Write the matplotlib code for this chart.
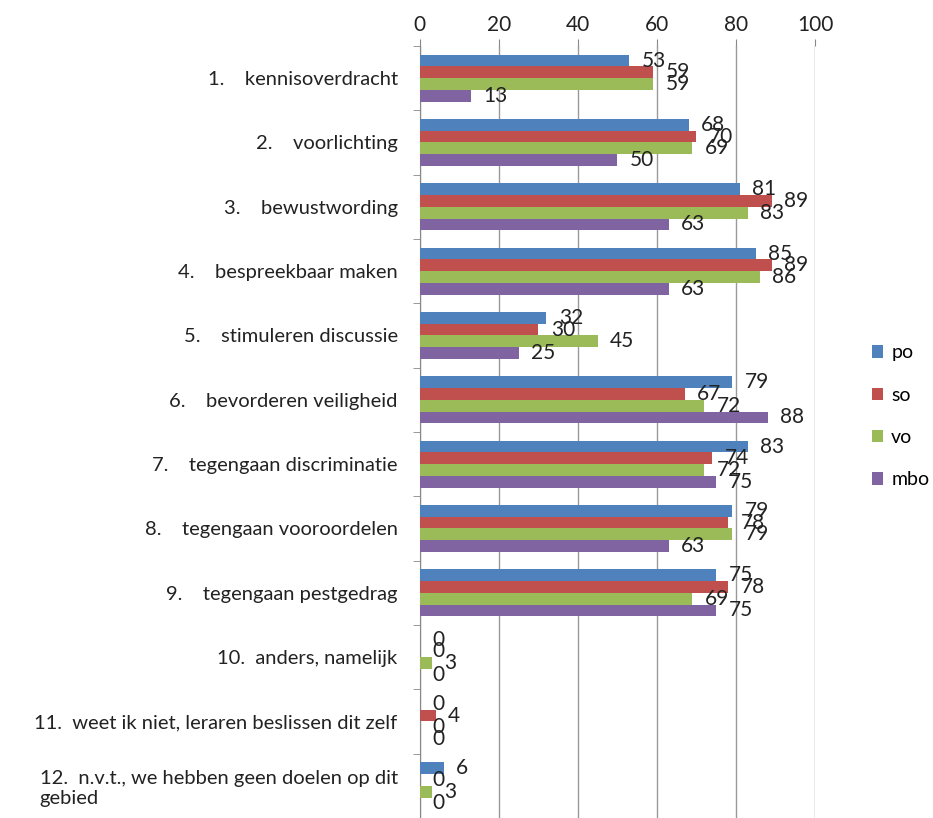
import matplotlib.pyplot as plt
import numpy as np

plt.rcParams['font.family'] = ['Lato', 'DejaVu Sans']

# categories top to bottom
categories = [
    "1.    kennisoverdracht",
    "2.    voorlichting",
    "3.    bewustwording",
    "4.    bespreekbaar maken",
    "5.    stimuleren discussie",
    "6.    bevorderen veiligheid",
    "7.    tegengaan discriminatie",
    "8.    tegengaan vooroordelen",
    "9.    tegengaan pestgedrag",
    "10.  anders, namelijk",
    "11.  weet ik niet, leraren beslissen dit zelf",
    "12.  n.v.t., we hebben geen doelen op dit\ngebied",
]
po = [53, 68, 81, 85, 32, 79, 83, 79, 75, 0, 0, 6]
so = [59, 70, 89, 89, 30, 67, 74, 78, 78, 0, 4, 0]
vo = [59, 69, 83, 86, 45, 72, 72, 79, 69, 3, 0, 3]
mbo = [13, 50, 63, 63, 25, 88, 75, 63, 75, 0, 0, 0]

series = [("po", po, "#4F81BD"), ("so", so, "#C0504D"),
          ("vo", vo, "#9BBB59"), ("mbo", mbo, "#8064A2")]

fig = plt.figure(figsize=(9.33, 8.18), dpi=100)
ax = fig.add_axes([0.450, 0.0, 0.4235, 0.9438])

n = len(categories)
y = np.arange(n)
bh = 1 / 5.5
for i, (name, vals, col) in enumerate(series):
    pos = y - 1.5 * bh + i * bh
    ax.barh(pos, vals, height=bh, color=col, label=name, zorder=3)
    for p, v in zip(pos, vals):
        ax.annotate(str(v), (v, p), xytext=(9, 0), textcoords='offset points',
                    va='center', ha='left', fontsize=15, color='#222222', zorder=4)

ax.set_xlim(0, 100)
ax.set_ylim(n - 0.5, -0.5)
ax.xaxis.tick_top()
ax.set_xticks(range(0, 101, 20))
ax.tick_params(axis='x', colors='#888888', labelcolor='#222222', labelsize=15,
               length=5, pad=3)
ax.set_yticks(y)
ax.set_yticklabels(categories, fontsize=14.5, color='#222222', multialignment='left')
ax.tick_params(axis='y', length=0, pad=16)
ax.set_yticks(np.arange(-0.5, n, 1), minor=True)
ax.tick_params(axis='y', which='minor', length=5, color='#888888')
ax.grid(axis='x', color='#999999', linewidth=1, zorder=0)
for s in ['top', 'right', 'bottom']:
    ax.spines[s].set_visible(False)
ax.spines['left'].set_color('#888888')

fig.legend(loc='center left', bbox_to_anchor=(0.926, 0.491), frameon=False,
           fontsize=14, handlelength=0.6, handleheight=0.6, handletextpad=0.4,
           labelspacing=1.3, borderaxespad=0)

fig.savefig('out.png', dpi=100)
